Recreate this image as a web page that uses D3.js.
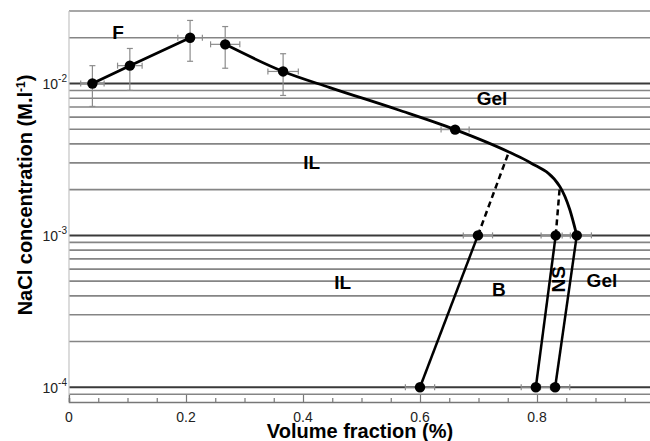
<!DOCTYPE html>
<html>
<head>
<meta charset="utf-8">
<script src="https://cdn.jsdelivr.net/npm/d3@7"></script>
<style>
  body { margin: 0; background: #fff; }
  svg { display: block; font-family: "Liberation Sans", Arial, sans-serif; }
</style>
</head>
<body>
<div id="chart"></div>
<script>
// measured points (volume fraction, NaCl concentration)
const pointX = [0.04, 0.104, 0.207, 0.267, 0.366, 0.66, 0.699, 0.832, 0.868, 0.600, 0.798, 0.831];
const pointY = [1.0e-2, 1.31e-2, 2.0e-2, 1.81e-2, 1.2e-2, 4.97e-3, 1e-3, 1e-3, 1e-3, 1e-4, 1e-4, 1e-4];
const xErr = [0.02, 0.021, 0.021, 0.025, 0.026, 0.024, 0.025, 0.025, 0.025, 0.025, 0.025, 0.025];
const yLow = [7.06e-3, 9.0e-3, 1.4e-2, 1.26e-2, 8.34e-3];
const yHigh = [1.31e-2, 1.7e-2, 2.6e-2, 2.37e-2, 1.57e-2];

// boundary lines
const fLineX = [0.04, 0.104, 0.207];
const fLineY = [1.0e-2, 1.31e-2, 2.0e-2];
const gelLineX = [0.267, 0.366, 0.446, 0.561, 0.66, 0.754, 0.788, 0.839, 0.856, 0.868];
const gelLineY = [1.81e-2, 1.2e-2, 9.4e-3, 6.74e-3, 4.97e-3, 3.51e-3, 3.02e-3, 2.1e-3, 1.48e-3, 1.0e-3];
const lowLinesX = [[0.699, 0.600], [0.832, 0.798], [0.868, 0.831]];
const lowLinesY = [[1e-3, 1e-4], [1e-3, 1e-4], [1e-3, 1e-4]];
const dashLinesX = [[0.699, 0.752], [0.832, 0.839]];
const dashLinesY = [[1e-3, 3.55e-3], [1e-3, 2.1e-3]];

// region labels
const regionText = ["F", "Gel", "IL", "IL", "B", "Gel"];
const regionX = [0.084, 0.723, 0.415, 0.468, 0.735, 0.911];
const regionY = [1.95e-2, 7.17e-3, 2.72e-3, 4.41e-4, 3.97e-4, 4.55e-4];
const nsText = "NS";
const nsX = 0.848, nsY = 5.14e-4;

// axes
const xTicks = [0, 0.2, 0.4, 0.6, 0.8, 1];
const yTicks = [1e-2, 1e-3, 1e-4];
const yTickExp = ["-2", "-3", "-4"];
const xDomain = [0, 1];
const yDomain = [8e-5, 3e-2];

const w = 650, h = 441;
const pLeft = 69, pRight = 654, pTop = 11, pBottom = 402;

const svg = d3.select("#chart").append("svg")
  .attr("width", w)
  .attr("height", h);

const xScale = d3.scaleLinear().domain(xDomain).range([pLeft, pRight]);
const yScale = d3.scaleLog().domain(yDomain).range([pBottom, pTop]);

// horizontal grid at every 1..9 x decade
const gridVals = [];
[1e-5, 1e-4, 1e-3, 1e-2].forEach(dec => {
  for (let k = 1; k <= 9; k++) {
    const v = dec * k;
    if (v > yDomain[0] * 1.001 && v < yDomain[1] * 0.999) gridVals.push(v);
  }
});
const isDecade = d => yTicks.some(t => Math.abs(t - d) / t < 1e-6);

svg.append("g")
  .selectAll("line")
  .data(gridVals)
  .enter()
  .append("line")
  .attr("x1", pLeft)
  .attr("x2", w)
  .attr("y1", d => yScale(d))
  .attr("y2", d => yScale(d))
  .attr("stroke", d => isDecade(d) ? "#3a3a3a" : "#858585")
  .attr("stroke-width", d => isDecade(d) ? 2 : 1.6);

// frame
svg.append("line")
  .attr("x1", pLeft).attr("x2", w)
  .attr("y1", yScale(yDomain[1])).attr("y2", yScale(yDomain[1]))
  .attr("stroke", "#8a8a8a").attr("stroke-width", 1.5);
svg.append("line")
  .attr("x1", pLeft).attr("x2", pLeft)
  .attr("y1", pTop).attr("y2", pBottom)
  .attr("stroke", "#c4c4c4").attr("stroke-width", 1.2);

// bottom axis with upward ticks
const xAxis = d3.axisBottom(xScale)
  .tickValues(d3.range(0, 1.0001, 0.05))
  .tickSize(-4)
  .tickFormat("");
svg.append("g")
  .attr("transform", `translate(0, ${pBottom})`)
  .call(xAxis)
  .call(g => g.select(".domain").attr("stroke", "#777").attr("stroke-width", 1.6))
  .call(g => g.selectAll(".tick line").attr("stroke", "#777").attr("stroke-width", 1.2)
    .attr("y2", d => Math.abs(d / 0.2 - Math.round(d / 0.2)) < 1e-6 ? -7 : -4));

svg.append("g")
  .selectAll("text")
  .data(xTicks)
  .enter()
  .append("text")
  .attr("x", d => xScale(d))
  .attr("y", 422)
  .attr("text-anchor", "middle")
  .attr("fill", "#222")
  .style("font-size", "14px")
  .text(d => d);

// y tick labels 10^n
const yLab = svg.append("g")
  .selectAll("text")
  .data(yTicks)
  .enter()
  .append("text")
  .attr("x", 67)
  .attr("y", d => yScale(d) + 6)
  .attr("text-anchor", "end")
  .attr("fill", "#222")
  .style("font-size", "14px");
yLab.append("tspan").text("10");
yLab.append("tspan")
  .attr("dy", -7)
  .style("font-size", "10px")
  .text((d, i) => yTickExp[i]);

// axis titles
svg.append("text")
  .attr("x", 360)
  .attr("y", 438)
  .attr("text-anchor", "middle")
  .attr("font-weight", "bold")
  .style("font-size", "20px")
  .text("Volume fraction (%)");

const yTitle = svg.append("text")
  .attr("transform", "translate(32, 195) rotate(-90)")
  .attr("text-anchor", "middle")
  .attr("font-weight", "bold")
  .style("font-size", "20px");
yTitle.append("tspan").text("NaCl concentration (M.l");
yTitle.append("tspan").attr("dy", -7).style("font-size", "12px").text("-1");
yTitle.append("tspan").attr("dy", 7).text(")");

// error bars
const pts = pointX.map((x, i) => ({x: x, y: pointY[i], e: xErr[i], lo: yLow[i], hi: yHigh[i]}));
const err = svg.append("g").attr("stroke", "#8c8c8c").attr("stroke-width", 1.2);
pts.forEach(p => {
  err.append("line")
    .attr("x1", xScale(p.x - p.e)).attr("x2", xScale(p.x + p.e))
    .attr("y1", yScale(p.y)).attr("y2", yScale(p.y));
  [p.x - p.e, p.x + p.e].forEach(v => err.append("line")
    .attr("x1", xScale(v)).attr("x2", xScale(v))
    .attr("y1", yScale(p.y) - 3).attr("y2", yScale(p.y) + 3));
  if (p.lo !== undefined) {
    err.append("line")
      .attr("x1", xScale(p.x)).attr("x2", xScale(p.x))
      .attr("y1", yScale(p.hi)).attr("y2", yScale(p.lo));
    [p.lo, p.hi].forEach(v => err.append("line")
      .attr("x1", xScale(p.x) - 3).attr("x2", xScale(p.x) + 3)
      .attr("y1", yScale(v)).attr("y2", yScale(v)));
  }
});

// boundary lines
const line = d3.line().x(d => xScale(d[0])).y(d => yScale(d[1]));
const zip = (xs, ys) => xs.map((x, i) => [x, ys[i]]);

svg.append("path")
  .attr("d", line(zip(fLineX, fLineY)))
  .attr("fill", "none").attr("stroke", "#000").attr("stroke-width", 2.8);
svg.append("path")
  .attr("d", line.curve(d3.curveMonotoneX)(zip(gelLineX, gelLineY)))
  .attr("fill", "none").attr("stroke", "#000").attr("stroke-width", 2.8);
line.curve(d3.curveLinear);
lowLinesX.forEach((xs, i) => svg.append("path")
  .attr("d", line(zip(xs, lowLinesY[i])))
  .attr("fill", "none").attr("stroke", "#000").attr("stroke-width", 2.5));
dashLinesX.forEach((xs, i) => svg.append("path")
  .attr("d", line(zip(xs, dashLinesY[i])))
  .attr("fill", "none").attr("stroke", "#000").attr("stroke-width", 2.5)
  .attr("stroke-dasharray", "6,4"));

// markers
svg.append("g")
  .selectAll("circle")
  .data(pts)
  .enter()
  .append("circle")
  .attr("cx", d => xScale(d.x))
  .attr("cy", d => yScale(d.y))
  .attr("r", 5.2)
  .attr("fill", "#000");

// region labels
svg.append("g")
  .selectAll("text")
  .data(regionText)
  .enter()
  .append("text")
  .attr("x", (d, i) => xScale(regionX[i]))
  .attr("y", (d, i) => yScale(regionY[i]))
  .attr("text-anchor", "middle")
  .attr("font-weight", "bold")
  .style("font-size", "19px")
  .text(d => d);

svg.append("text")
  .attr("transform", `translate(${xScale(nsX)}, ${yScale(nsY)}) rotate(-90)`)
  .attr("text-anchor", "middle")
  .attr("font-weight", "bold")
  .style("font-size", "19px")
  .text(nsText);
</script>
</body>
</html>
